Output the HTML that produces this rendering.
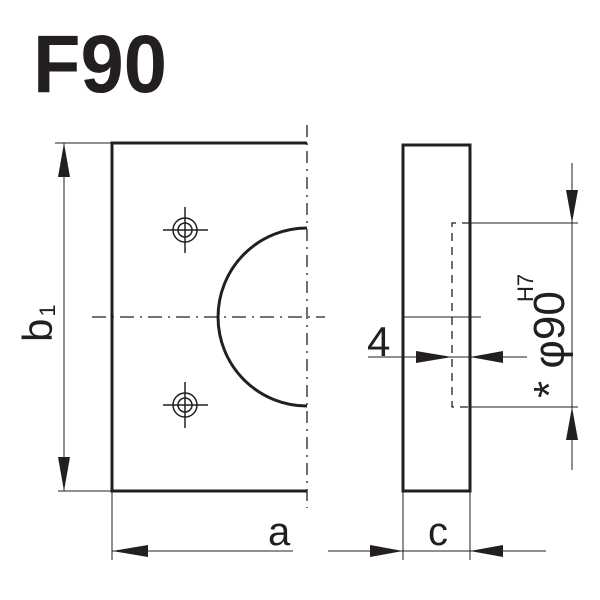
<!DOCTYPE html>
<html><head><style>body{margin:0;background:#fff}svg{display:block}</style></head><body>
<svg width="600" height="600" viewBox="0 0 600 600" xmlns="http://www.w3.org/2000/svg" font-family="Liberation Sans, DejaVu Sans, sans-serif">
<rect width="600" height="600" fill="#fff"/>
<text x="33" y="92" font-size="82" font-weight="bold" fill="#231f20" textLength="134" lengthAdjust="spacingAndGlyphs">F90</text>
<g stroke="#231f20" fill="none">
<path d="M307 143 H112 V491 H307" stroke-width="3"/>
<path d="M307 228 A89 89 0 0 0 307 406" stroke-width="3"/>
<line x1="307" y1="125" x2="307" y2="508" stroke-width="1.3" stroke-dasharray="12,6,2,6"/>
<line x1="92" y1="317" x2="325" y2="317" stroke-width="1.3" stroke-dasharray="14,6,2,6"/>
<g stroke-width="1.5">
<circle cx="185" cy="230" r="12"/><circle cx="185" cy="230" r="7"/>
<line x1="163" y1="230" x2="208" y2="230"/><line x1="185" y1="207" x2="185" y2="253"/>
<circle cx="185" cy="405" r="12"/><circle cx="185" cy="405" r="7"/>
<line x1="163" y1="405" x2="208" y2="405"/><line x1="185" y1="382" x2="185" y2="428"/>
</g>
<rect x="403" y="145" width="67" height="346" stroke-width="3"/>
<path d="M470 223 H452 V407 H470" stroke-width="1.3" stroke-dasharray="8,6"/>
<g stroke-width="1">
<line x1="470" y1="223" x2="578" y2="223"/>
<line x1="470" y1="407" x2="578" y2="407"/>
<line x1="572" y1="163" x2="572" y2="470"/>
<line x1="403" y1="317" x2="481" y2="317"/>
<line x1="368" y1="357" x2="527" y2="357"/>
<line x1="55" y1="143" x2="112" y2="143"/>
<line x1="58" y1="491" x2="112" y2="491"/>
<line x1="64" y1="143" x2="64" y2="491"/>
<line x1="112" y1="491" x2="112" y2="560"/>
<line x1="112" y1="551" x2="293" y2="551"/>
<line x1="403" y1="491" x2="403" y2="560"/>
<line x1="470" y1="491" x2="470" y2="560"/>
<line x1="328" y1="551" x2="546" y2="551"/>
</g>
</g>
<g fill="#231f20">
<polygon points="64,143 58,177 70,177"/>
<polygon points="64,491 58,457 70,457"/>
<polygon points="112,551 148,545 148,557"/>
<polygon points="403,551 370,545 370,557"/>
<polygon points="470,551 503,545 503,557"/>
<polygon points="452,357 416,351 416,363"/>
<polygon points="470,357 503,351 503,363"/>
<polygon points="572,223 566,190 578,190"/>
<polygon points="572,407 566,440 578,440"/>
<text x="367" y="356" font-size="42">4</text>
<text x="268" y="545" font-size="40">a</text>
<text x="428" y="545" font-size="40">c</text>
<text transform="translate(52,342) rotate(-90)" font-size="42">b<tspan font-size="22" dx="2" dy="3">1</tspan></text>
<text transform="translate(564,398) rotate(-90)" font-size="44">* φ90</text>
<text transform="translate(533,302) rotate(-90)" font-size="22">H7</text>
</g>
</svg>
</body></html>
